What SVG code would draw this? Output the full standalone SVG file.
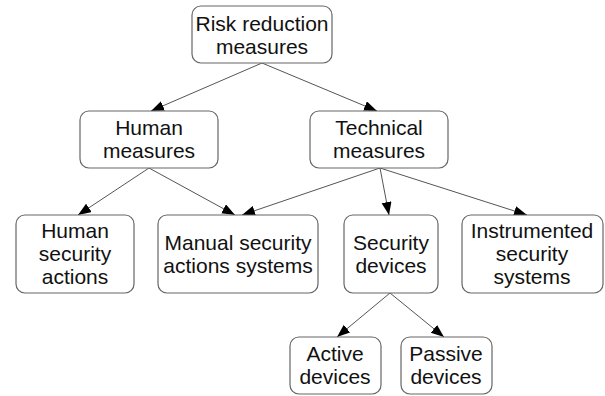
<svg xmlns="http://www.w3.org/2000/svg" width="605" height="396" viewBox="0 0 605 396">
<style>
.box{fill:#fff;stroke:#666;stroke-width:1.2}
.lbl{font-family:"Liberation Sans",Arial,sans-serif;font-size:21px;fill:#111;text-anchor:middle}
.edge{stroke:#555;stroke-width:1;fill:none;marker-end:url(#arr)}
</style>
<defs>
<marker id="arr" markerUnits="userSpaceOnUse" markerWidth="14" markerHeight="11" refX="13" refY="5" orient="auto">
<path d="M0,0 L13,5 L0,10 z" fill="#000"/>
</marker>
</defs>
<rect width="605" height="396" fill="#fff"/>
<g id="connectors">
<line class="edge" x1="262" y1="63" x2="151" y2="111"/>
<line class="edge" x1="262" y1="63" x2="377" y2="111"/>
<line class="edge" x1="149" y1="168" x2="78" y2="215"/>
<line class="edge" x1="149" y1="168" x2="235" y2="215"/>
<line class="edge" x1="380" y1="168" x2="242" y2="215"/>
<line class="edge" x1="380" y1="168" x2="389" y2="215"/>
<line class="edge" x1="380" y1="168" x2="527" y2="215"/>
<line class="edge" x1="390" y1="293" x2="337" y2="337"/>
<line class="edge" x1="390" y1="293" x2="444" y2="337"/>
</g>
<g id="risk-reduction">
<rect class="box" x="192" y="6" width="140" height="57" rx="9"/>
<text class="lbl" x="262" y="31">Risk reduction</text>
<text class="lbl" x="262" y="54">measures</text>
</g>
<g id="human-measures">
<rect class="box" x="80" y="111" width="138" height="57" rx="9"/>
<text class="lbl" x="149" y="135">Human</text>
<text class="lbl" x="149" y="158">measures</text>
</g>
<g id="technical-measures">
<rect class="box" x="310" y="111" width="138" height="57" rx="9"/>
<text class="lbl" x="379" y="135">Technical</text>
<text class="lbl" x="379" y="158">measures</text>
</g>
<g id="human-security-actions">
<rect class="box" x="16" y="215" width="118" height="78" rx="9"/>
<text class="lbl" x="75" y="238">Human</text>
<text class="lbl" x="75" y="261">security</text>
<text class="lbl" x="75" y="284">actions</text>
</g>
<g id="manual-security">
<rect class="box" x="158" y="215" width="160" height="78" rx="9"/>
<text class="lbl" x="238" y="250">Manual security</text>
<text class="lbl" x="238" y="273">actions systems</text>
</g>
<g id="security-devices">
<rect class="box" x="344" y="215" width="94" height="78" rx="9"/>
<text class="lbl" x="391" y="250">Security</text>
<text class="lbl" x="391" y="273">devices</text>
</g>
<g id="instrumented">
<rect class="box" x="462" y="215" width="141" height="78" rx="9"/>
<text class="lbl" x="532" y="238">Instrumented</text>
<text class="lbl" x="532" y="261">security</text>
<text class="lbl" x="532" y="284">systems</text>
</g>
<g id="active-devices">
<rect class="box" x="290" y="337" width="91" height="57" rx="9"/>
<text class="lbl" x="335" y="361">Active</text>
<text class="lbl" x="335" y="384">devices</text>
</g>
<g id="passive-devices">
<rect class="box" x="401" y="337" width="91" height="57" rx="9"/>
<text class="lbl" x="446" y="361">Passive</text>
<text class="lbl" x="446" y="384">devices</text>
</g>
</svg>
